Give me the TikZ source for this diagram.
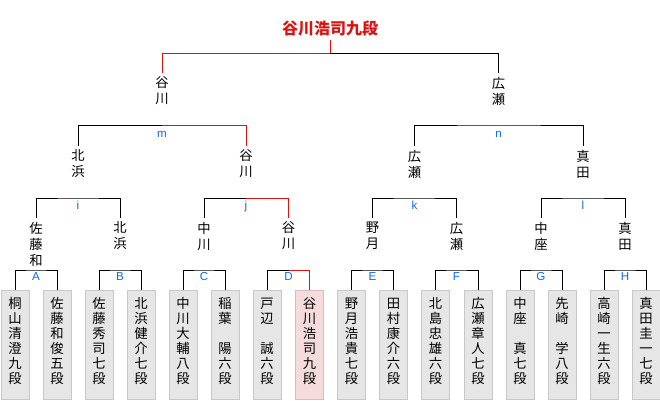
\documentclass[tikz,border=0pt]{standalone}
\usepackage{fontspec}
\setmainfont{Liberation Sans}
\newfontfamily\jp{Noto Sans CJK JP}
\definecolor{winred}{RGB}{221,17,17}
\definecolor{lblblue}{RGB}{17,102,238}
\definecolor{boxgray}{RGB}{230,230,230}
\definecolor{boxline}{RGB}{200,200,200}
\definecolor{winfill}{RGB}{245,220,220}
\definecolor{winline}{RGB}{225,185,185}

\begin{document}
\begin{tikzpicture}[x=0.75pt,y=0.75pt,yscale=-1,xscale=1,line width=0.75pt,
    player/.style={draw=boxline,fill=boxgray,anchor=north,align=center,text width=21pt,minimum width=21pt,inner xsep=0pt,inner ysep=5pt,text height=8.5pt,text depth=63.25pt,font=\jp\fontsize{10}{11.25}\selectfont},
    winner/.style={player,draw=winline,fill=winfill},
    pname/.style={anchor=north,align=center,inner sep=0pt,outer ysep=3pt,font=\jp\fontsize{10}{12}\selectfont},
    mlabel/.style={anchor=base,inner sep=0pt,text=lblblue,font=\fontsize{8.7}{10}\selectfont},
    champ/.style={inner sep=0pt,outer ysep=2.25pt,text=winred,font=\jp\bfseries\fontsize{12}{14}\selectfont},
    win/.style={draw=winred}]
    \useasboundingbox (0,0) rectangle (660,400);

    % champion
    \node[champ] (champ) at (330,29) {谷川浩司九段};

    % final
    \node[pname] (r1) at (162,73) {谷\\川};
    \node[pname] (r2) at (498.5,73) {広\\瀬};

    % semi-finals
    \node[pname] (q1) at (78,146) {北\\浜};
    \node[pname] (q2) at (246,146) {谷\\川};
    \node[pname] (q3) at (414.5,146) {広\\瀬};
    \node[pname] (q4) at (583,146) {真\\田};

    % quarter-finals
    \node[pname] (p1) at (36,218) {佐\\藤\\和};
    \node[pname] (p2) at (120,218) {北\\浜};
    \node[pname] (p3) at (204,218) {中\\川};
    \node[pname] (p4) at (288.5,218) {谷\\川};
    \node[pname] (p5) at (372.5,218) {野\\月};
    \node[pname] (p6) at (456.5,218) {広\\瀬};
    \node[pname] (p7) at (541,218) {中\\座};
    \node[pname] (p8) at (625,218) {真\\田};

    % players
    \node[player] (b1) at (15,290) {桐\\山\\清\\澄\\九\\段};
    \node[player] (b2) at (57,290) {佐\\藤\\和\\俊\\五\\段};
    \node[player] (b3) at (99,290) {佐\\藤\\秀\\司\\七\\段};
    \node[player] (b4) at (141,290) {北\\浜\\健\\介\\七\\段};
    \node[player] (b5) at (183,290) {中\\川\\大\\輔\\八\\段};
    \node[player] (b6) at (225,290) {稲\\葉\\\mbox{}\\陽\\六\\段};
    \node[player] (b7) at (267,290) {戸\\辺\\\mbox{}\\誠\\六\\段};
    \node[winner] (b8) at (309.5,290) {谷\\川\\浩\\司\\九\\段};
    \node[player] (b9) at (351.5,290) {野\\月\\浩\\貴\\七\\段};
    \node[player] (b10) at (393.5,290) {田\\村\\康\\介\\六\\段};
    \node[player] (b11) at (435.5,290) {北\\島\\忠\\雄\\六\\段};
    \node[player] (b12) at (478,290) {広\\瀬\\章\\人\\七\\段};
    \node[player] (b13) at (520,290) {中\\座\\\mbox{}\\真\\七\\段};
    \node[player] (b14) at (562,290) {先\\崎\\\mbox{}\\学\\八\\段};
    \node[player] (b15) at (604,290) {高\\崎\\一\\生\\六\\段};
    \node[player] (b16) at (646,290) {真\\田\\圭\\一\\七\\段};

    % bracket tops
    \coordinate (tTop) at (330,53);
    \coordinate (tm) at (162,125);
    \coordinate (tn) at (498.5,125);
    \coordinate (ti) at (78,198);
    \coordinate (tj) at (246,198);
    \coordinate (tk) at (414.5,198);
    \coordinate (tl) at (583,198);
    \coordinate (tA) at (36,270);
    \coordinate (tB) at (120,270);
    \coordinate (tC) at (204,270);
    \coordinate (tD) at (288.5,270);
    \coordinate (tE) at (372.5,270);
    \coordinate (tF) at (456.5,270);
    \coordinate (tG) at (541,270);
    \coordinate (tH) at (625,270);

    % match labels
    \node[mlabel] (lm) at (162,137) {m};
    \node[mlabel] (ln) at (498.5,137) {n};
    \node[mlabel] (li) at (78,209) {i};
    \node[mlabel] (lj) at (246,209) {j};
    \node[mlabel] (lk) at (414.5,209) {k};
    \node[mlabel] (ll) at (583,209) {l};
    \node[mlabel] (lA) at (36,280) {A};
    \node[mlabel] (lB) at (120,280) {B};
    \node[mlabel] (lC) at (204,280) {C};
    \node[mlabel] (lD) at (288.5,280) {D};
    \node[mlabel] (lE) at (372.5,280) {E};
    \node[mlabel] (lF) at (456.5,280) {F};
    \node[mlabel] (lG) at (541,280) {G};
    \node[mlabel] (lH) at (625,280) {H};

    % lines
    \draw[win] (champ.south) -- (tTop);
    \draw[win] (tTop) -| (r1.north);
    \draw (tTop) -| (r2.north);
    \draw (q1.north) |- (tm);
    \draw[win] (tm) -| (q2.north);
    \draw (q3.north) |- (tn) -| (q4.north);
    \draw (p1.north) |- (ti) -| (p2.north);
    \draw (p3.north) |- (tj);
    \draw[win] (tj) -| (p4.north);
    \draw (p5.north) |- (tk) -| (p6.north);
    \draw (p7.north) |- (tl) -| (p8.north);
    \draw (b1.north) |- (tA) -| (b2.north);
    \draw (b3.north) |- (tB) -| (b4.north);
    \draw (b5.north) |- (tC) -| (b6.north);
    \draw (b7.north) |- (tD);
    \draw[win] (tD) -| (b8.north);
    \draw (b9.north) |- (tE) -| (b10.north);
    \draw (b11.north) |- (tF) -| (b12.north);
    \draw (b13.north) |- (tG) -| (b14.north);
    \draw (b15.north) |- (tH) -| (b16.north);
\end{tikzpicture}
\end{document}
